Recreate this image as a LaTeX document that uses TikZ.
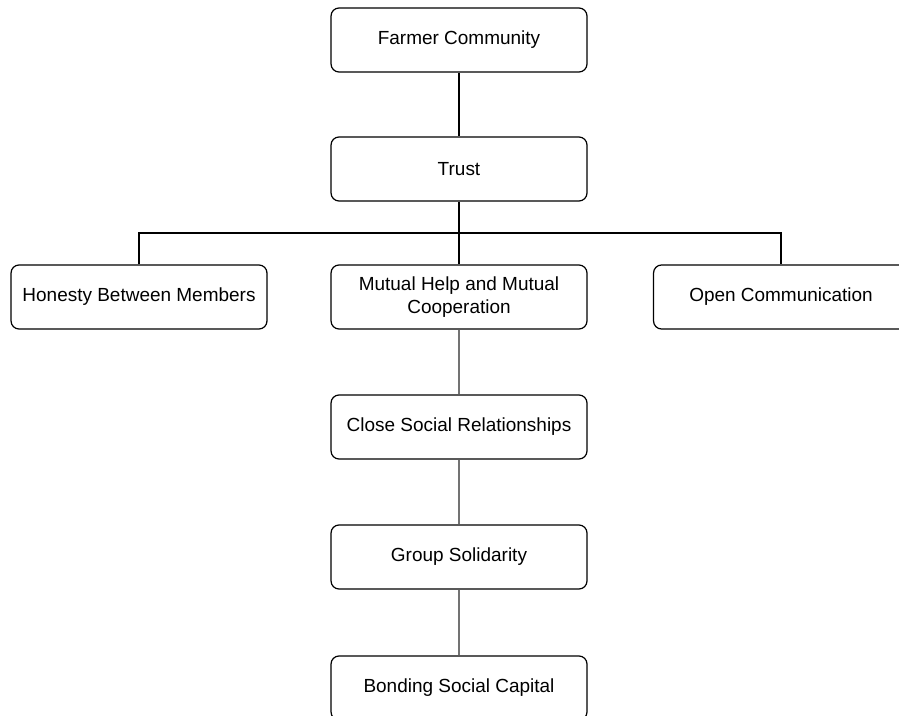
\documentclass[tikz,border=0pt]{standalone}
\usepackage{fontspec}
\setmainfont{Liberation Sans}
\begin{document}
\begin{tikzpicture}[x=0.02cm,y=-0.02cm,
    box/.style={draw, rounded corners=0.16cm, line width=0.7pt, minimum width=5.12cm,
        minimum height=1.28cm, align=center, font=\fontsize{10.8}{13.5}\selectfont},
    link/.style={line width=0.6pt},
    greylink/.style={draw=black!55, line width=1.2pt}]
        \useasboundingbox (0,0) rectangle (899,716);
        \clip (0,0) rectangle (899,716);

        % Draw boxes
        \node[box] (farmer) at (459,40) {Farmer Community};
        \node[box] (trust) at (459,169) {Trust};
        \node[box] (honesty) at (139,297) {Honesty Between Members};
        \node[box] (mutual) at (459,297) {Mutual Help and Mutual\\Cooperation};
        \node[box, minimum width=5.1cm] (opencomm) at (781,297) {Open Communication};
        \node[box] (close) at (459,427) {Close Social Relationships};
        \node[box] (solidarity) at (459,557) {Group Solidarity};
        \node[box] (bonding) at (459,688) {Bonding Social Capital};

        % Draw links
        \coordinate (bar) at (459,233);
        \draw[link] (farmer) -- (trust);
        \draw[link] (trust) -- (mutual);
        \draw[link] (honesty.north) |- (bar) -| (opencomm.north);
        \draw[greylink] (mutual) -- (close);
        \draw[greylink] (close) -- (solidarity);
        \draw[greylink] (solidarity) -- (bonding);
    \end{tikzpicture}
\end{document}
